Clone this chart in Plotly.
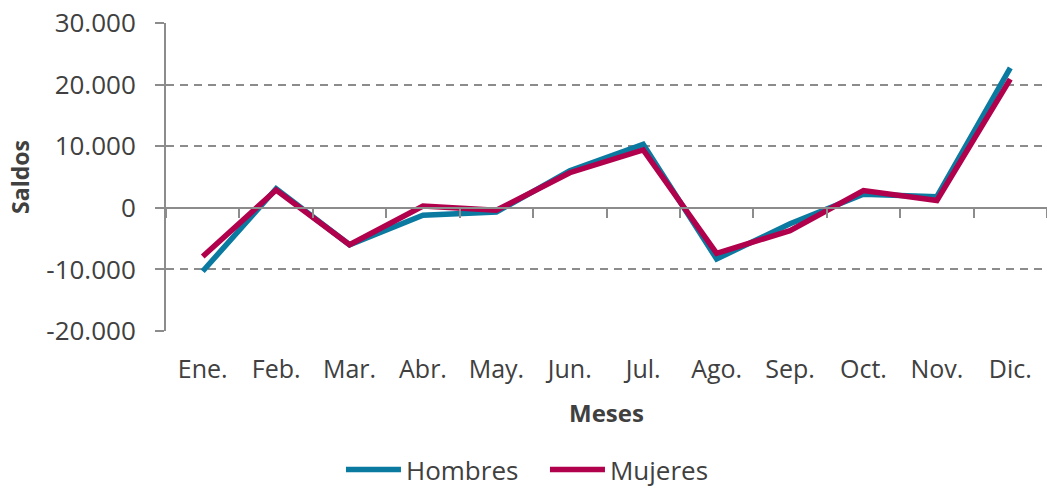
import plotly.graph_objects as go

meses = ["Ene.", "Feb.", "Mar.", "Abr.", "May.", "Jun.", "Jul.", "Ago.", "Sep.", "Oct.", "Nov.", "Dic."]
hombres = [-10300, 3100, -6000, -1200, -700, 6000, 10300, -8300, -2600, 2200, 1800, 22700]
mujeres = [-7900, 2900, -6000, 300, -400, 5700, 9400, -7400, -3700, 2800, 1200, 20900]
y_ticks = [-20000, -10000, 0, 10000, 20000, 30000]
y_labels = ["-20.000", "-10.000", "0", "10.000", "20.000", "30.000"]

FONT = "Open Sans"
TXT = "#404040"
GRID = "#8c8c8c"

fig = go.Figure()
fig.add_trace(go.Scatter(x=meses, y=hombres, name="Hombres", mode="lines",
                         line=dict(color="#0a7aa0", width=5.5), xaxis="x"))
fig.add_trace(go.Scatter(x=meses, y=mujeres, name="Mujeres", mode="lines",
                         line=dict(color="#b1004c", width=5.5), xaxis="x2"))

fig.update_layout(
    width=1047, height=493,
    margin=dict(l=166, r=0, t=23, b=162),
    plot_bgcolor="white", paper_bgcolor="white",
    font=dict(family=FONT, color=TXT, size=26),
    xaxis=dict(
        type="category", range=[-0.5, 11.5], showgrid=False, showline=False,
        ticks="", tickfont=dict(size=25, color=TXT), ticklabelstandoff=21,
        title=dict(text="<b>Meses</b>", font=dict(size=24, color=TXT), standoff=21),
        zeroline=False, automargin=False,
    ),
    xaxis2=dict(
        type="category", matches="x", overlaying="x", anchor="free", position=0.4,
        showline=True, linecolor=GRID, linewidth=2, ticks="outside", tickson="boundaries",
        ticklen=9, tickwidth=2, tickcolor=GRID, showticklabels=False, showgrid=False,
        automargin=False,
    ),
    yaxis=dict(
        range=[-20000, 30000], tickvals=y_ticks, ticktext=y_labels,
        showgrid=True, gridcolor=GRID, gridwidth=2, griddash="8px,6px",
        zeroline=True, zerolinecolor=GRID, zerolinewidth=2,
        showline=True, linecolor=GRID, linewidth=2,
        ticks="outside", ticklen=9, tickwidth=2, tickcolor=GRID,
        ticklabelstandoff=14, tickfont=dict(size=26, color=TXT),
        title=dict(text="<b>Saldos</b>", font=dict(size=23, color=TXT), standoff=10),
        automargin=False,
    ),
    legend=dict(orientation="h", xref="container", yref="container",
                x=0.5205, xanchor="center", y=0.0, yanchor="bottom",
                font=dict(size=26, color=TXT), itemwidth=55, tracegroupgap=0,
                entrywidth=134, entrywidthmode="pixels"),
    showlegend=True,
)

fig.write_html("out.html", config={"displayModeBar": False},
               post_script="document.body.style.margin='0';")
